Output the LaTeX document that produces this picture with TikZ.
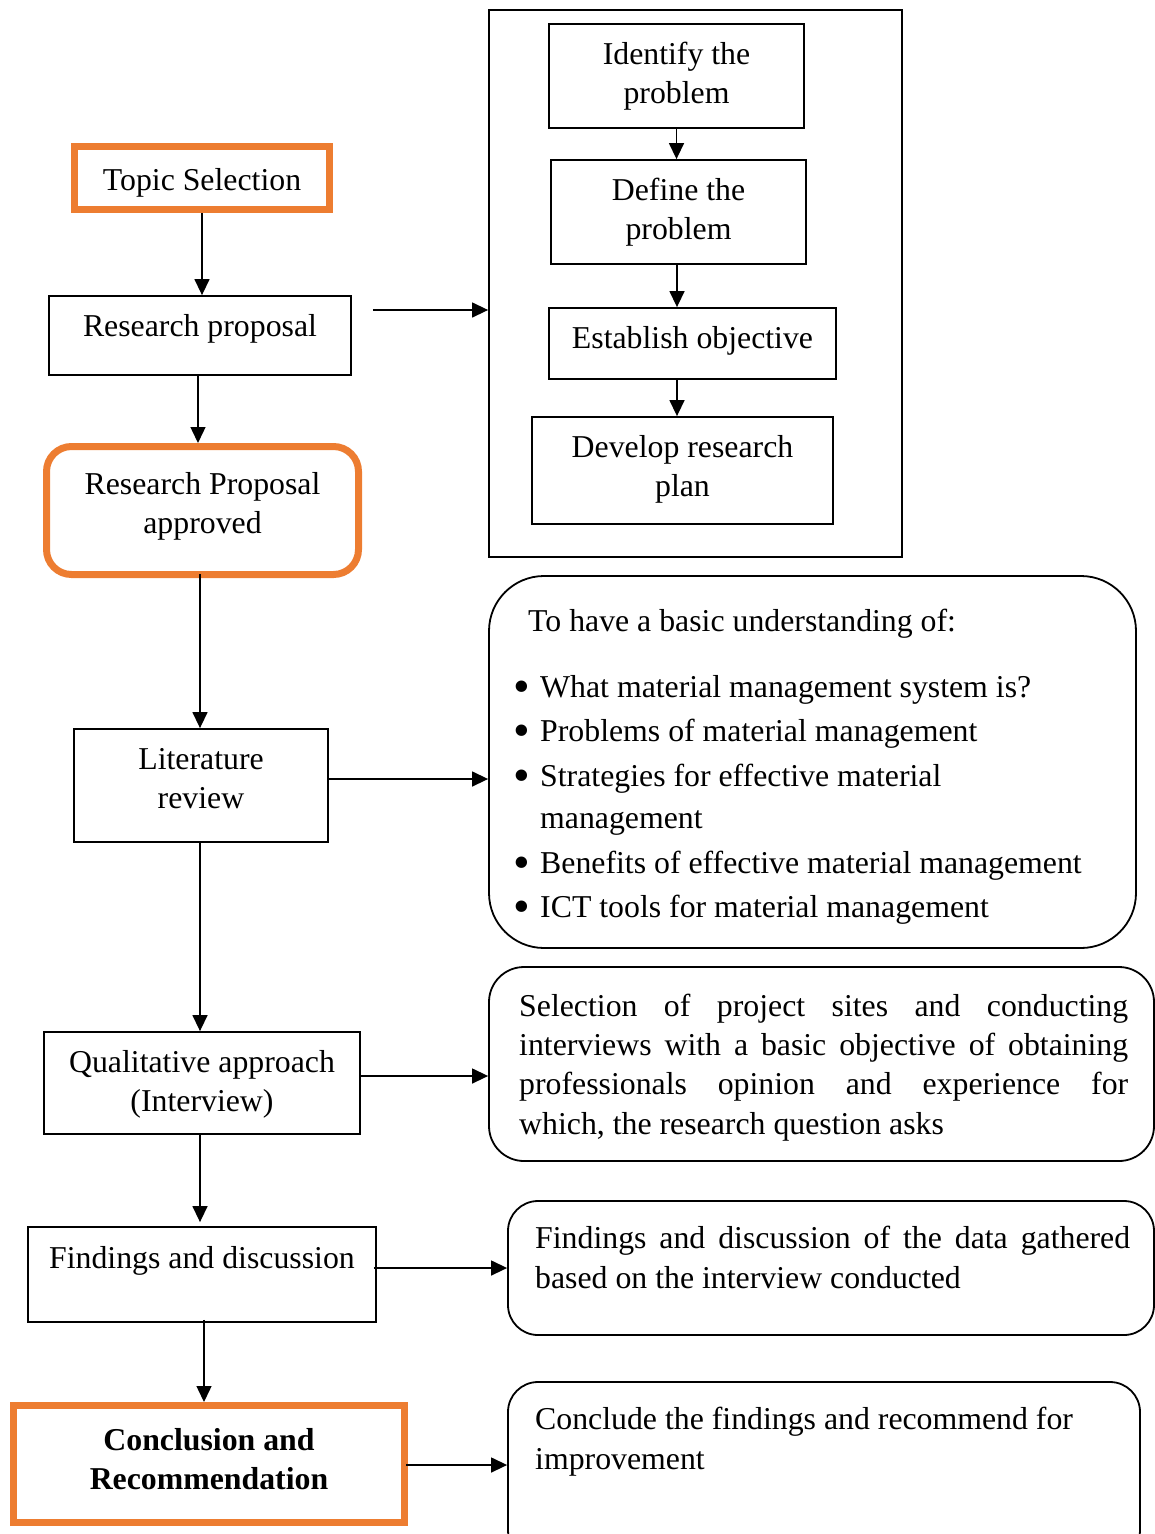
\documentclass[tikz,border=0pt]{standalone}
\usepackage{fontspec}
\setmainfont{Liberation Serif}
\usetikzlibrary{arrows.meta}
\definecolor{accent}{HTML}{ED7D31}
% list bullet, enlarged about its own centre
\newcommand{\itemdot}{\hspace*{-6pt}\makebox[0pt]{\raisebox{-5pt}{\scalebox{1.5}{•}}}\hspace*{18pt}}
\begin{document}
\begin{tikzpicture}[x=1pt,y=-1pt,
  every node/.style={inner sep=0pt, font=\fontsize{31.8}{39}\selectfont},
  % box size and the text box height/depth that sets where the lines sit
  sqbox/.style args={#1x#2}{draw, line width=1.8pt, align=center, minimum width=#1pt, minimum height=#2pt},
  hotbox/.style args={#1x#2}{draw=accent, line width=7pt, align=center, minimum width=#1pt, minimum height=#2pt},
  softbox/.style args={#1x#2}{draw, line width=1.8pt, minimum width=#1pt, minimum height=#2pt},
  tpos/.style args={#1/#2}{text height=#1pt, text depth=#2pt},
  arr/.style={line width=1.4pt, -{Triangle[length=16pt,width=15pt]}},
  body/.style={anchor=base west, align=left}]
\useasboundingbox (0,0) rectangle (1155,1534);
\clip (0,0) rectangle (1155,1534);

% main column
\node[hotbox=255x63, tpos=30/5] (ts) at (202,178) {Topic Selection};
\node[sqbox=302x79, tpos=30/29] (rp) at (200,335.5) {Research proposal};
\node[hotbox=312x128, rounded corners=25pt, tpos=69/24] (rpa) at (202.5,510.5)
  {Research Proposal\\approved};
\node[sqbox=254x113, tpos=69/24] (lit) at (201,785.5) {Literature\\review};
\node[sqbox=316x102, tpos=69/12] (qa) at (202,1083) {Qualitative approach\\(Interview)};
\node[sqbox=348x95, tpos=30/43] (fd) at (202,1274.5) {Findings and discussion};
\node[hotbox=391x117, tpos=69/19, font=\fontsize{31.8}{39}\selectfont\bfseries] (cr) at (209,1464)
  {Conclusion and\\Recommendation};

% research proposal breakdown
\node[softbox=413x547] (plan) at (695.5,283.5) {};
\node[sqbox=255x104, tpos=69/15] (idp) at (676.5,76) {Identify the\\problem};
\node[sqbox=255x104, tpos=69/15] (dfp) at (678.5,212) {Define the\\problem};
\node[sqbox=287x71, tpos=30/21] (eso) at (692.5,343.5) {Establish objective};
\node[sqbox=301x107, tpos=69/18] (drp) at (682.5,470.5) {Develop research\\plan};

% explanatory notes
\node[softbox=647x372, rounded corners=55pt] (litn) at (812.5,762) {};
\node[softbox=665x194, rounded corners=35pt] (qan) at (821.5,1064) {};
\node[softbox=646x134, rounded corners=30pt] (fdn) at (831,1268) {};
\node[softbox=632x178, rounded corners=30pt] (crn) at (824,1471) {};

\node[body] (litt) at (528,917) {To have a basic understanding of:\\[27pt]
  \itemdot What material management system is?\\[5.5pt]
  \itemdot Problems of material management\\[5.5pt]
  \itemdot Strategies for effective material\\[3pt]
  \hspace*{12pt}management\\[6pt]
  \itemdot Benefits of effective material management\\[5pt]
  \itemdot ICT tools for material management};
\node[body, font=\fontsize{31.8}{39.3}\selectfont] (qat) at (519,1134) {%
  \makebox[609pt][s]{Selection of project sites and conducting}\\
  \makebox[609pt][s]{interviews with a basic objective of obtaining}\\
  \makebox[609pt][s]{professionals opinion and experience for}\\
  which, the research question asks};
\node[body, font=\fontsize{31.8}{40}\selectfont] (fdt) at (535,1288) {%
  \makebox[595pt][s]{Findings and discussion of the data gathered}\\
  based on the interview conducted};
\node[body, font=\fontsize{31.8}{40}\selectfont] (crt) at (535,1469) {%
  Conclude the findings and recommend for\\
  improvement};

% connectors
\draw[arr] (ts.south) -- (ts.south |- rp.north);
\draw[arr] ([xshift=-2pt]rp.south) -- ([xshift=-2pt]rp.south |- rpa.north);
\draw[arr] ([xshift=21pt,yshift=25.5pt]rp.east) -- ([yshift=25.5pt]rp.east -| plan.west);
\draw[arr] ([xshift=-2.5pt,yshift=4pt]rpa.south) -- ([xshift=-2.5pt]rpa.south |- lit.north);
\draw[arr] ([xshift=-1pt]lit.south) -- ([xshift=-1pt]lit.south |- qa.north);
\draw[arr] ([xshift=-2pt]qa.south) -- ([xshift=-2pt,yshift=4pt]qa.south |- fd.north);
\draw[arr] ([xshift=2pt,yshift=3pt]fd.south) -- ([xshift=2pt]fd.south |- cr.north);

\draw[arr] (idp.south) -- (idp.south |- dfp.north);
\draw[arr] ([xshift=-1.5pt]dfp.south) -- ([xshift=-1.5pt]dfp.south |- eso.north);
\draw[arr] ([xshift=-15.5pt]eso.south) -- ([xshift=-15.5pt]eso.south |- drp.north);

\draw[arr] ([yshift=6.5pt]lit.east) -- ([yshift=6.5pt]lit.east -| litn.west);
\draw[arr] ([yshift=7pt]qa.east) -- ([yshift=7pt]qa.east -| qan.west);
\draw[arr] ([xshift=-3pt,yshift=6.5pt]fd.east) -- ([yshift=6.5pt]fd.east -| fdn.west);
\draw[arr] ([xshift=-2pt,yshift=-1pt]cr.east) -- ([yshift=-1pt]cr.east -| crn.west);
\end{tikzpicture}
\end{document}
